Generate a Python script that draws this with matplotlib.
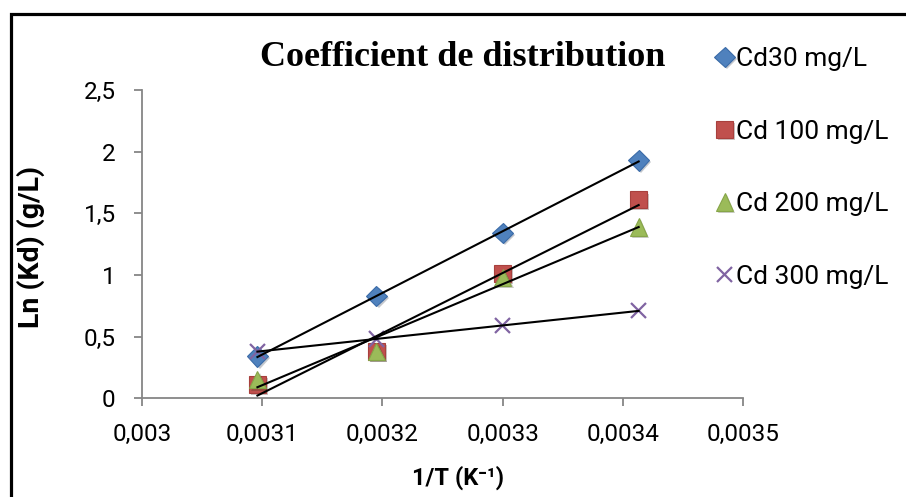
import matplotlib as mpl
mpl.use('Agg')
import matplotlib.pyplot as plt
import matplotlib.patheffects as pe
from matplotlib.patches import Rectangle
from matplotlib.ticker import FuncFormatter
import numpy as np

# 1/T (K^-1) and ln(Kd) for each Cd concentration
inv_T = [0.003096, 0.003195, 0.0033, 0.003413]
cd30 = [0.34, 0.83, 1.34, 1.93]
cd100 = [0.11, 0.38, 1.01, 1.61]
cd200 = [0.15, 0.38, 0.98, 1.39]
cd300 = [0.38, 0.48, 0.59, 0.71]

labels = ['Cd30 mg/L', 'Cd 100 mg/L', 'Cd 200 mg/L', 'Cd 300 mg/L']
x_ticks = [0.003, 0.0031, 0.0032, 0.0033, 0.0034, 0.0035]
y_ticks = [0, 0.5, 1, 1.5, 2, 2.5]

styles = [
    dict(marker='D', ms=10.5, mfc='#4F81BD', mec='#3A6BA8', mew=0.8),
    dict(marker='s', ms=12, mfc='#C0504D', mec='#A8403D', mew=0.8),
    dict(marker='^', ms=12.5, mfc='#9BBB59', mec='#86A548', mew=0.8),
    dict(marker='x', ms=11, mfc='none', mec='#8064A2', mew=1.6),
]

font = ['Roboto', 'DejaVu Sans']
plt.rcParams['font.family'] = font

fig = plt.figure(figsize=(9.06, 4.97), dpi=100)
ax = fig.add_axes([0.1567, 0.1986, 0.6637, 0.6203])

x = np.array(inv_T)
shadow = [pe.SimplePatchShadow(offset=(1.5, -1.5), alpha=0.25), pe.Normal()]
handles = []
for ys, st, lab in zip([cd30, cd100, cd200, cd300], styles, labels):
    h, = ax.plot(x, ys, ls='none', label=lab, zorder=3, path_effects=shadow, **st)
    handles.append(h)

# linear trend lines over the measured range
for ys in [cd30, cd100, cd200, cd300]:
    a, b = np.polyfit(x, ys, 1)
    xx = np.array([x.min(), x.max()])
    ax.plot(xx, a * xx + b, color='black', lw=1.5, zorder=4)

ax.set_xlim(0.003, 0.0035)
ax.set_ylim(0, 2.5)
ax.set_xticks(x_ticks)
ax.set_yticks(y_ticks)
ax.xaxis.set_major_formatter(FuncFormatter(lambda v, p: ('%g' % round(v, 5)).replace('.', ',')))
ax.yaxis.set_major_formatter(FuncFormatter(lambda v, p: ('%g' % v).replace('.', ',')))
for s in ['top', 'right']:
    ax.spines[s].set_visible(False)
for s in ['left', 'bottom']:
    ax.spines[s].set_color('#868686')
    ax.spines[s].set_linewidth(1.3)
ax.tick_params(direction='out', length=6, width=1.3, color='#868686',
               labelsize=17.5)
ax.tick_params(axis='x', pad=12)
ax.tick_params(axis='y', pad=13)

ax.set_xlabel('1/T (K⁻¹)', fontsize=17, fontweight='bold')
ax.xaxis.set_label_coords(0.525, -0.258, transform=ax.transAxes)
ax.xaxis.label.set_va('center')
fig.text(0.034, 0.503, 'Ln (Kd) (g/L)', rotation=90, fontsize=20.5,
         fontweight='bold', ha='center', va='center')

fig.text(0.511, 0.884, 'Coefficient de distribution', family='Liberation Serif',
         fontsize=26, fontweight='bold', ha='center', va='center')

fig.legend(handles=handles, loc='upper left', bbox_to_anchor=(0.791, 0.905),
           frameon=False, fontsize=19, labelspacing=1.84, handlelength=0.6,
           handletextpad=0.15, borderaxespad=0, borderpad=0)

fig.patches.append(Rectangle((11 / 906, -0.1), 1.2, 1.1 - 14 / 497, fill=False,
                             lw=2.3, ec='black', transform=fig.transFigure))

plt.savefig('out.png', dpi=100)
